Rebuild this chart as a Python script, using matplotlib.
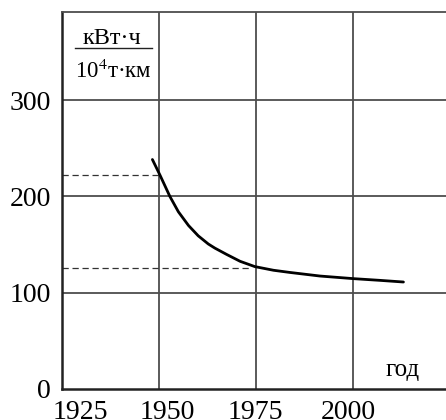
import matplotlib
matplotlib.use("Agg")
import matplotlib.pyplot as plt
from matplotlib.transforms import offset_copy

plt.rcParams['font.family'] = ['Liberation Serif', 'DejaVu Serif']
plt.rcParams['mathtext.fontset'] = 'stix'

# curve
years = [1948.3, 1950.3, 1952.8, 1955.0, 1957.6, 1960.1, 1962.7, 1964.4, 1967.4,
         1970.9, 1974.7, 1979.5, 1983.8, 1986.3, 1991.5, 2000.1, 2007.0, 2013.0]
energy = [238.3, 221.7, 200.0, 184.0, 169.8, 159.1, 150.6, 146.3, 139.8,
          132.6, 127.1, 123.3, 121.0, 119.8, 117.3, 114.6, 112.8, 111.1]

# dashed guide lines: (level, end year)
guide_levels = [222, 126]
guide_ends = [1950, 1974]

xticks = [1925, 1950, 1975, 2000]
yticks = [0, 100, 200, 300]
xlabel_shift = [18, 8, -1, -5]  # label offsets in px, as placed in the source

W, H = 446, 420
fig = plt.figure(figsize=(W / 100, H / 100), dpi=100)
ax = fig.add_axes([62 / W, 31 / H, 388 / W, 377.5 / H])

ax.set_xlim(1925, 2025)
ax.set_ylim(0, 392)

for x in [1950, 1975, 2000]:
    ax.axvline(x, color='#4d4d4d', lw=1.3, zorder=1)
for y in [100, 200, 300]:
    ax.axhline(y, color='#4d4d4d', lw=1.3, zorder=1)

for lvl, end in zip(guide_levels, guide_ends):
    ax.plot([1925, end], [lvl, lvl], color='#333333', lw=0.9, ls=(0, (5, 3)), zorder=2)

ax.plot(years, energy, color='black', lw=2.0, zorder=3,
        solid_capstyle='round', solid_joinstyle='round')

for s in ['left', 'bottom']:
    ax.spines[s].set_linewidth(1.8)
    ax.spines[s].set_color('#222222')
ax.spines['top'].set_color('#4d4d4d')
ax.spines['top'].set_linewidth(1.3)
ax.spines['right'].set_visible(False)

ax.set_xticks(xticks)
ax.set_yticks(yticks)
ax.tick_params(length=0, labelsize=20)
ax.tick_params(axis='y', pad=8)
ax.tick_params(axis='x', pad=8)
for lab, dx in zip(ax.get_xticklabels(), xlabel_shift):
    lab.set_transform(offset_copy(lab.get_transform(), fig=fig, x=dx, y=0, units='dots'))

fig.text(403 / W, 1 - 370 / H, 'год', fontsize=18, ha='center', va='center')

# unit label as a fraction
fig.text(112 / W, 1 - 38 / H, 'кВт·ч', fontsize=17.5, ha='center', va='center')
fig.add_artist(plt.Line2D([75 / W, 152 / W], [1 - 47.5 / H, 1 - 47.5 / H],
                          color='#222222', lw=1.0, transform=fig.transFigure))
fig.text(113 / W, 1 - 71 / H, '10$^4$т·км', fontsize=16.5, ha='center', va='center')

fig.savefig('out.png', dpi=100)
